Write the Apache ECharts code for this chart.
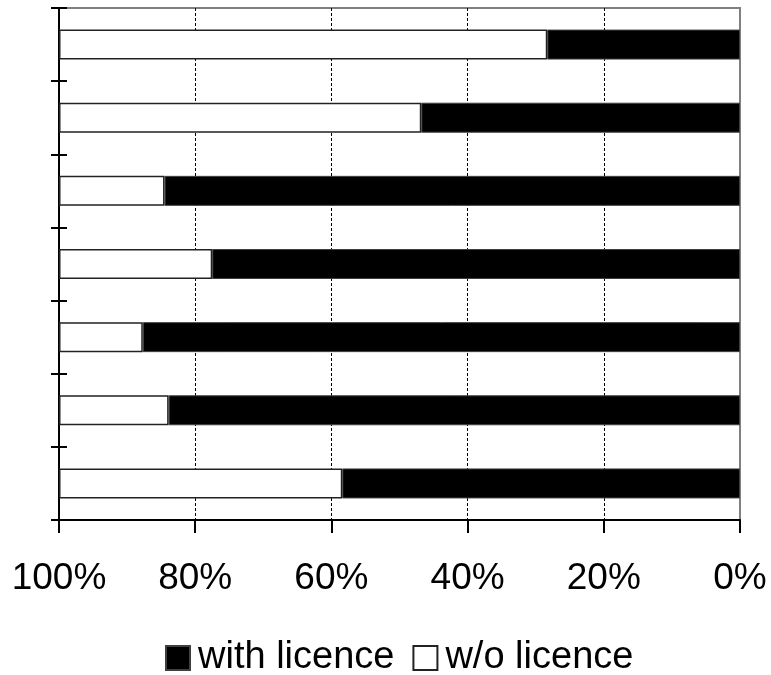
<!DOCTYPE html>
<html>
<head>
<meta charset="utf-8">
<title>Licence share</title>
<script src="https://cdn.jsdelivr.net/npm/echarts@6/dist/echarts.min.js"></script>
<style>
  html, body { margin: 0; padding: 0; background: #fff; }
  #chart { width: 771px; height: 675px; }
</style>
</head>
<body>
<div id="chart"></div>
<script>
// Seven groups, top to bottom
const categories = ['1', '2', '3', '4', '5', '6', '7'];
// Share (%) with a licence
const withLicence = [28.3, 46.8, 84.5, 77.5, 87.7, 83.9, 58.4];
// Share (%) without a licence
const withoutLicence = [71.7, 53.2, 15.5, 22.5, 12.3, 16.1, 41.6];
// Percentage ticks on the horizontal axis
const tickValues = [0, 20, 40, 60, 80, 100];

const FONT = 'Liberation Sans, Arial, sans-serif';
const plotBox = { left: 59, right: 31, top: 8, bottom: 155 };

const chart = echarts.init(document.getElementById('chart'), null, { renderer: 'canvas' });

chart.setOption({
  animation: false,
  backgroundColor: '#fff',
  grid: Object.assign({
    show: true,
    borderColor: '#808080',
    borderWidth: 2,
    backgroundColor: '#fff'
  }, plotBox),
  legend: {
    left: 160,
    top: 634,
    itemWidth: 24,
    itemHeight: 24,
    itemGap: 18,
    icon: 'rect',
    textStyle: { fontFamily: FONT, fontSize: 38, color: '#000', padding: [0, 0, 0, 3] },
    data: ['with licence', 'w/o licence']
  },
  xAxis: {
    type: 'value',
    min: 0,
    max: 100,
    interval: 20,
    inverse: true,
    axisLine: { show: true, onZero: false, lineStyle: { color: '#000', width: 2 } },
    axisTick: { show: true, length: 13, lineStyle: { color: '#000', width: 2 } },
    axisLabel: {
      margin: 40,
      fontFamily: FONT,
      fontSize: 37,
      color: '#000',
      formatter: v => (tickValues.indexOf(v) >= 0 ? v + '%' : '')
    },
    splitLine: {
      show: true,
      lineStyle: {
        color: ['rgba(0,0,0,0)', '#000', '#000', '#000', '#000', 'rgba(0,0,0,0)'],
        width: 1,
        type: [3, 2]
      }
    }
  },
  yAxis: [
    {
      type: 'category',
      data: categories,
      inverse: true,
      position: 'left',
      axisLine: { show: true, onZero: false, lineStyle: { color: '#000', width: 2 } },
      axisTick: { show: true, length: 8, lineStyle: { color: '#000', width: 2 } },
      axisLabel: { show: false },
      splitLine: { show: false }
    },
    {
      // inner half of the category ticks, so they cross the axis line
      type: 'category',
      data: categories,
      inverse: true,
      position: 'left',
      axisLine: { show: false, onZero: false },
      axisTick: { show: true, inside: true, length: 8, lineStyle: { color: '#000', width: 2 } },
      axisLabel: { show: false },
      splitLine: { show: false }
    }
  ],
  series: [
    {
      name: 'with licence',
      type: 'bar',
      stack: 'total',
      barWidth: 30,
      data: withLicence,
      itemStyle: { color: '#000', borderColor: '#404040', borderWidth: 1 }
    },
    {
      name: 'w/o licence',
      type: 'bar',
      stack: 'total',
      barWidth: 30,
      data: withoutLicence,
      itemStyle: { color: '#fff', borderColor: '#222', borderWidth: 1.5 }
    }
  ]
});
</script>
</body>
</html>
